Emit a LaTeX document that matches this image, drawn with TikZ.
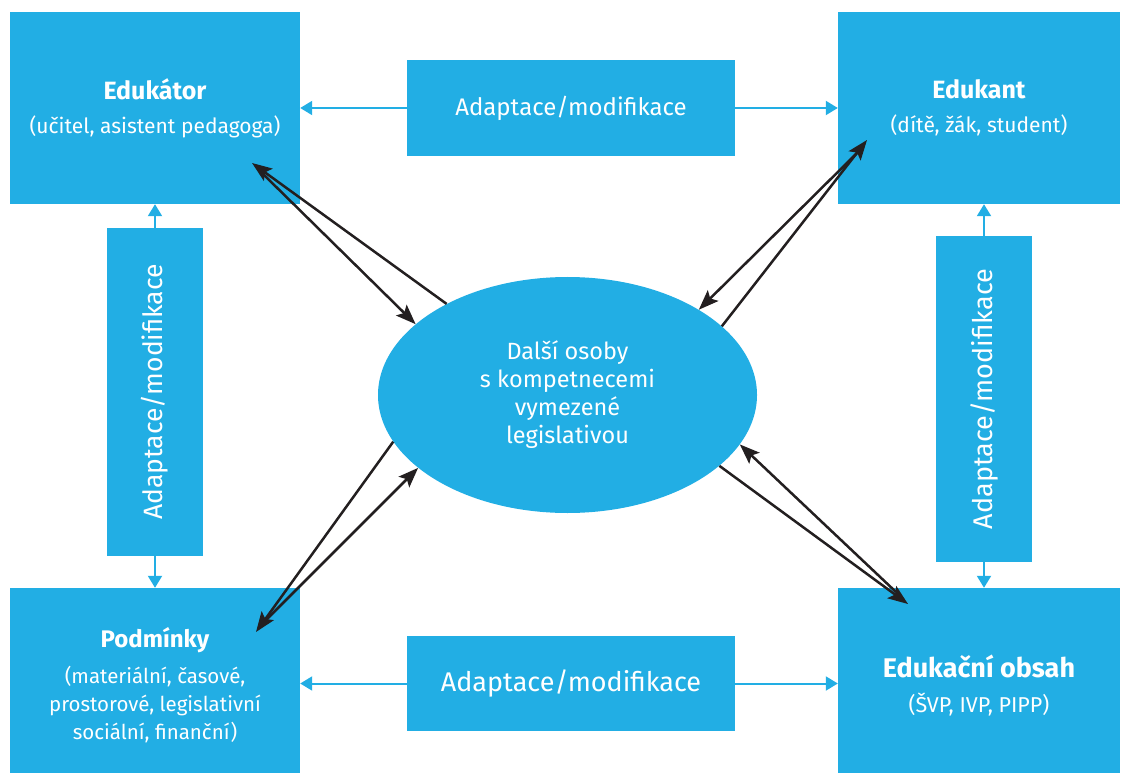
\documentclass[tikz,border=0pt]{standalone}
\usepackage{fontspec}
\setmainfont{Fira Sans}
\usetikzlibrary{arrows.meta,shapes.geometric}
\definecolor{modra}{HTML}{22AEE4}
\definecolor{cerna}{HTML}{231F20}
\newcommand{\nadpis}[2]{{\fontsize{#1}{34}\selectfont\bfseries #2}}
\begin{document}
\begin{tikzpicture}[x=1pt,y=-1pt,
  box/.style={rectangle,fill=modra,text=white,align=center,inner sep=0pt},
  mod/.style={-{Triangle[length=12pt,width=14pt]},line width=2pt,modra},
  vaz/.style={-{Stealth[length=20pt,width=15pt,inset=4pt]},line width=2.5pt,cerna}]
  \useasboundingbox (0,0) rectangle (1121,775);
  % rohove uzly
  \node[box,minimum width=290pt,minimum height=192pt,font=\fontsize{21}{34}\selectfont] (E) at (155,108) {\nadpis{25}{Edukátor}\\(učitel, asistent pedagoga)};
  \node[box,minimum width=282pt,minimum height=192pt,font=\fontsize{21}{34}\selectfont] (K) at (979,108) {\nadpis{25}{Edukant}\\(dítě, žák, student)};
  \node[box,minimum width=290pt,minimum height=185pt,font=\fontsize{20.5}{28}\selectfont] (P) at (155,680.5) {\rule{0pt}{30pt}\nadpis{24}{Podmínky}\\[8pt](materiální, časové,\\prostorové, legislativní\\sociální, finanční)};
  \node[box,minimum width=282pt,minimum height=185pt,font=\fontsize{21.5}{35}\selectfont] (O) at (979,680.5) {\rule{0pt}{32pt}\nadpis{27}{Edukační obsah}\\(ŠVP, IVP, PIPP)};
  % adaptace
  \node[box,minimum width=328pt,minimum height=96pt,font=\fontsize{24}{28}\selectfont] (M1) at (571,108) {Adaptace/modifikace};
  \node[box,minimum width=328pt,minimum height=95pt,font=\fontsize{27}{30}\selectfont] (M2) at (571,683.5) {Adaptace/modifikace};
  \node[box,rotate=90,minimum width=328pt,minimum height=96pt,font=\fontsize{26.5}{30}\selectfont] (L) at (155,392) {Adaptace/modifikace};
  \node[box,rotate=90,minimum width=326pt,minimum height=96pt,font=\fontsize{27}{30}\selectfont] (R) at (984,399) {Adaptace/modifikace};
  % stred
  \node[ellipse,fill=modra,text=white,align=center,inner sep=0pt,minimum width=379pt,minimum height=236pt,font=\fontsize{23.5}{28}\selectfont] (D) at (567.5,395) {Další osoby\\s kompetnecemi\\vymezené\\legislativou};
  \draw[mod] (M1.west) -- (E.east);
  \draw[mod] (M1.east) -- (K.west);
  \draw[mod] (M2.west) -- (M2.west -| P.east);
  \draw[mod] (M2.east) -- (M2.east -| O.west);
  \draw[mod] (L.east) -- (E.south);
  \draw[mod] (L.west) -- (P.north);
  \draw[mod] (R.east) -- (R.east |- K.south);
  \draw[mod] (R.west) -- (R.west |- O.north);
  % cerne sipky
  \coordinate (tE) at (252,163);
  \coordinate (sE) at (262,173);
  \coordinate (tK) at (867,140);
  \coordinate (sK) at (857,153);
  \coordinate (tP) at (256,632);
  \coordinate (sP) at (266,620);
  \coordinate (tO) at (908,604);
  \coordinate (sO) at (896,592);
  \draw[vaz] (D.143) -- (tE);
  \draw[vaz] (sE) -- (D.155);
  \draw[vaz] (D.24.5) -- (tK);
  \draw[vaz] (sK) -- (D.33.6);
  \draw[vaz] (D.195.5) -- (tP);
  \draw[vaz] (sP) -- (D.206.6);
  \draw[vaz] (D.335) -- (tO);
  \draw[vaz] (sO) -- (D.344.7);
\end{tikzpicture}
\end{document}
